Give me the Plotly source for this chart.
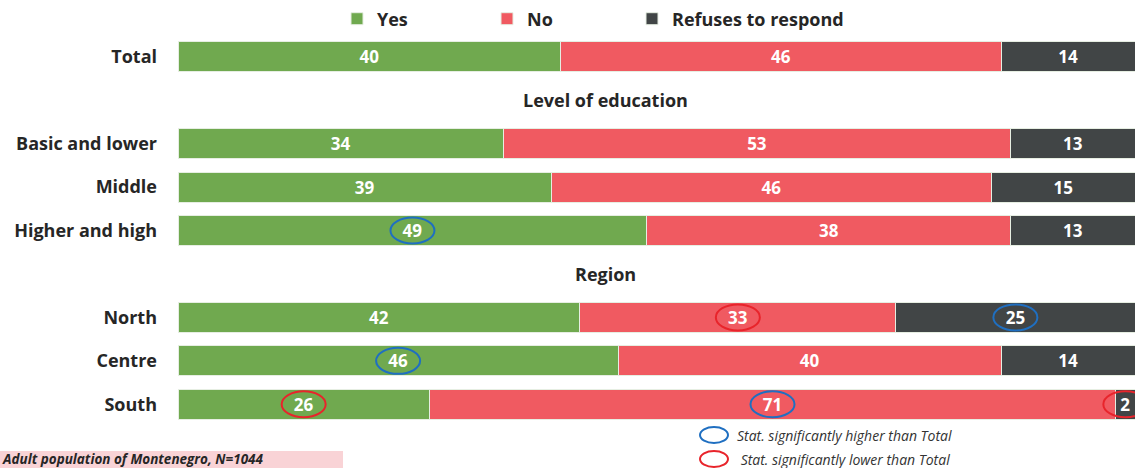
import plotly.graph_objects as go

# Row labels top to bottom; empty strings are the group header rows
rows = ["Total", "", "Basic and lower", "Middle", "Higher and high",
        "", "North", "Centre", "South"]
yes = [40, None, 34, 39, 49, None, 42, 46, 26]
no = [46, None, 53, 46, 38, None, 33, 40, 71]
refuses = [14, None, 13, 15, 13, None, 25, 14, 2]

series_names = ["Yes", "No", "Refuses to respond"]
series_colors = ["#70A94F", "#F05A61", "#414546"]

group_headers = ["Level of education", "Region"]
group_header_rows = [1, 5]

# Significance vs. Total: (row index, series index, direction)
significance = [
    (4, 0, "higher"),
    (6, 1, "lower"),
    (6, 2, "higher"),
    (7, 0, "higher"),
    (8, 0, "lower"),
    (8, 1, "higher"),
    (8, 2, "lower"),
]
sig_colors = {"higher": "#1F6FC1", "lower": "#E8242B"}
sig_legend = [("higher", "Stat. significantly higher than Total"),
              ("lower", " Stat. significantly lower than Total")]

footnote = "Adult population of Montenegro, N=1044"

W, H = 1136, 468
L, R, T, B = 178, 1, 35, 42
PW, PH = W - L - R, H - T - B
FONT = "Open Sans"
DARK = "#262626"


def px_x(px):
    return (px - L) / PW


def px_y(py):
    return (H - B - py) / PH


y_idx = list(range(len(rows)))
values = [yes, no, refuses]
legend_ids = ["legend", "legend2", "legend3"]
legend_text_px = [377, 527, 672]

fig = go.Figure()
for name, vals, color, lid in zip(series_names, values, series_colors, legend_ids):
    fig.add_trace(go.Bar(
        name=name,
        y=y_idx,
        x=vals,
        orientation="h",
        legend=lid,
        marker=dict(color=color, line=dict(color="#E6EEE2", width=1)),
        text=[str(v) if v is not None else "" for v in vals],
        textposition="inside",
        insidetextanchor="middle",
        textangle=0,
        textfont=dict(family=FONT, size=17, color="white", weight="bold"),
        hoverinfo="skip",
    ))

# Segment centres in percent, following barnorm="percent"
def seg_center(r, s):
    tot = sum(v[r] for v in values)
    start = sum(values[k][r] for k in range(s))
    return (start + values[s][r] / 2) / tot * 100

shapes = []
for r, s, d in significance:
    shapes.append(dict(
        type="circle", xref="x", yref="y",
        xsizemode="pixel", ysizemode="pixel",
        xanchor=seg_center(r, s), yanchor=r,
        x0=-22, x1=22, y0=-13, y1=13,
        line=dict(color=sig_colors[d], width=2),
        fillcolor="rgba(0,0,0,0)", layer="above",
    ))

annotations = []
for text, r in zip(group_headers, group_header_rows):
    annotations.append(dict(
        x=44.7, y=r, xref="x", yref="y", text=text, showarrow=False,
        font=dict(family=FONT, size=18, color=DARK, weight="bold"),
    ))

# Significance key below the bars
for i, (d, label) in enumerate(sig_legend):
    cy = 435 + 24 * i
    shapes.append(dict(
        type="circle", xref="paper", yref="paper",
        xsizemode="pixel", ysizemode="pixel",
        xanchor=px_x(714), yanchor=px_y(cy),
        x0=-14, x1=14, y0=-8, y1=8,
        line=dict(color=sig_colors[d], width=2),
        fillcolor="rgba(0,0,0,0)",
    ))
    annotations.append(dict(
        x=px_x(735), y=px_y(cy), xref="paper", yref="paper",
        xanchor="left", yanchor="middle", text=label, showarrow=False,
        font=dict(family=FONT, size=14, color="#333333", style="italic"),
    ))

# Footnote band
shapes.append(dict(
    type="rect", xref="paper", yref="paper",
    x0=px_x(0), x1=px_x(343), y0=px_y(468), y1=px_y(451),
    fillcolor="#F9D3D6", line=dict(width=0), layer="below",
))
annotations.append(dict(
    x=px_x(0), y=px_y(459), xref="paper", yref="paper",
    xanchor="left", yanchor="middle", text=footnote, showarrow=False,
    font=dict(family=FONT, size=13.5, color=DARK,
              weight="bold", style="italic"),
))

legend_style = dict(
    orientation="h", y=px_y(19), xanchor="left", yanchor="middle",
    font=dict(family=FONT, size=18, color=DARK, weight="bold"),
    bgcolor="rgba(0,0,0,0)",
)

fig.update_layout(
    width=W, height=H,
    margin=dict(l=L, r=R, t=T, b=B),
    barmode="stack", barnorm="percent", bargap=0.31,
    plot_bgcolor="white", paper_bgcolor="white",
    showlegend=True,
    xaxis=dict(range=[0, 100], visible=False, fixedrange=True),
    yaxis=dict(
        range=[len(rows) - 0.5, -0.5],
        tickvals=y_idx, ticktext=rows,
        showgrid=False, zeroline=False, showline=False,
        ticks="", ticklabelstandoff=20,
        tickfont=dict(family=FONT, size=18, color=DARK, weight="bold"),
    ),
    shapes=shapes,
    annotations=annotations,
)
for lid, tx in zip(legend_ids, legend_text_px):
    fig.update_layout({lid: dict(legend_style, x=px_x(tx - 40))})

fig.write_html("out.html")
